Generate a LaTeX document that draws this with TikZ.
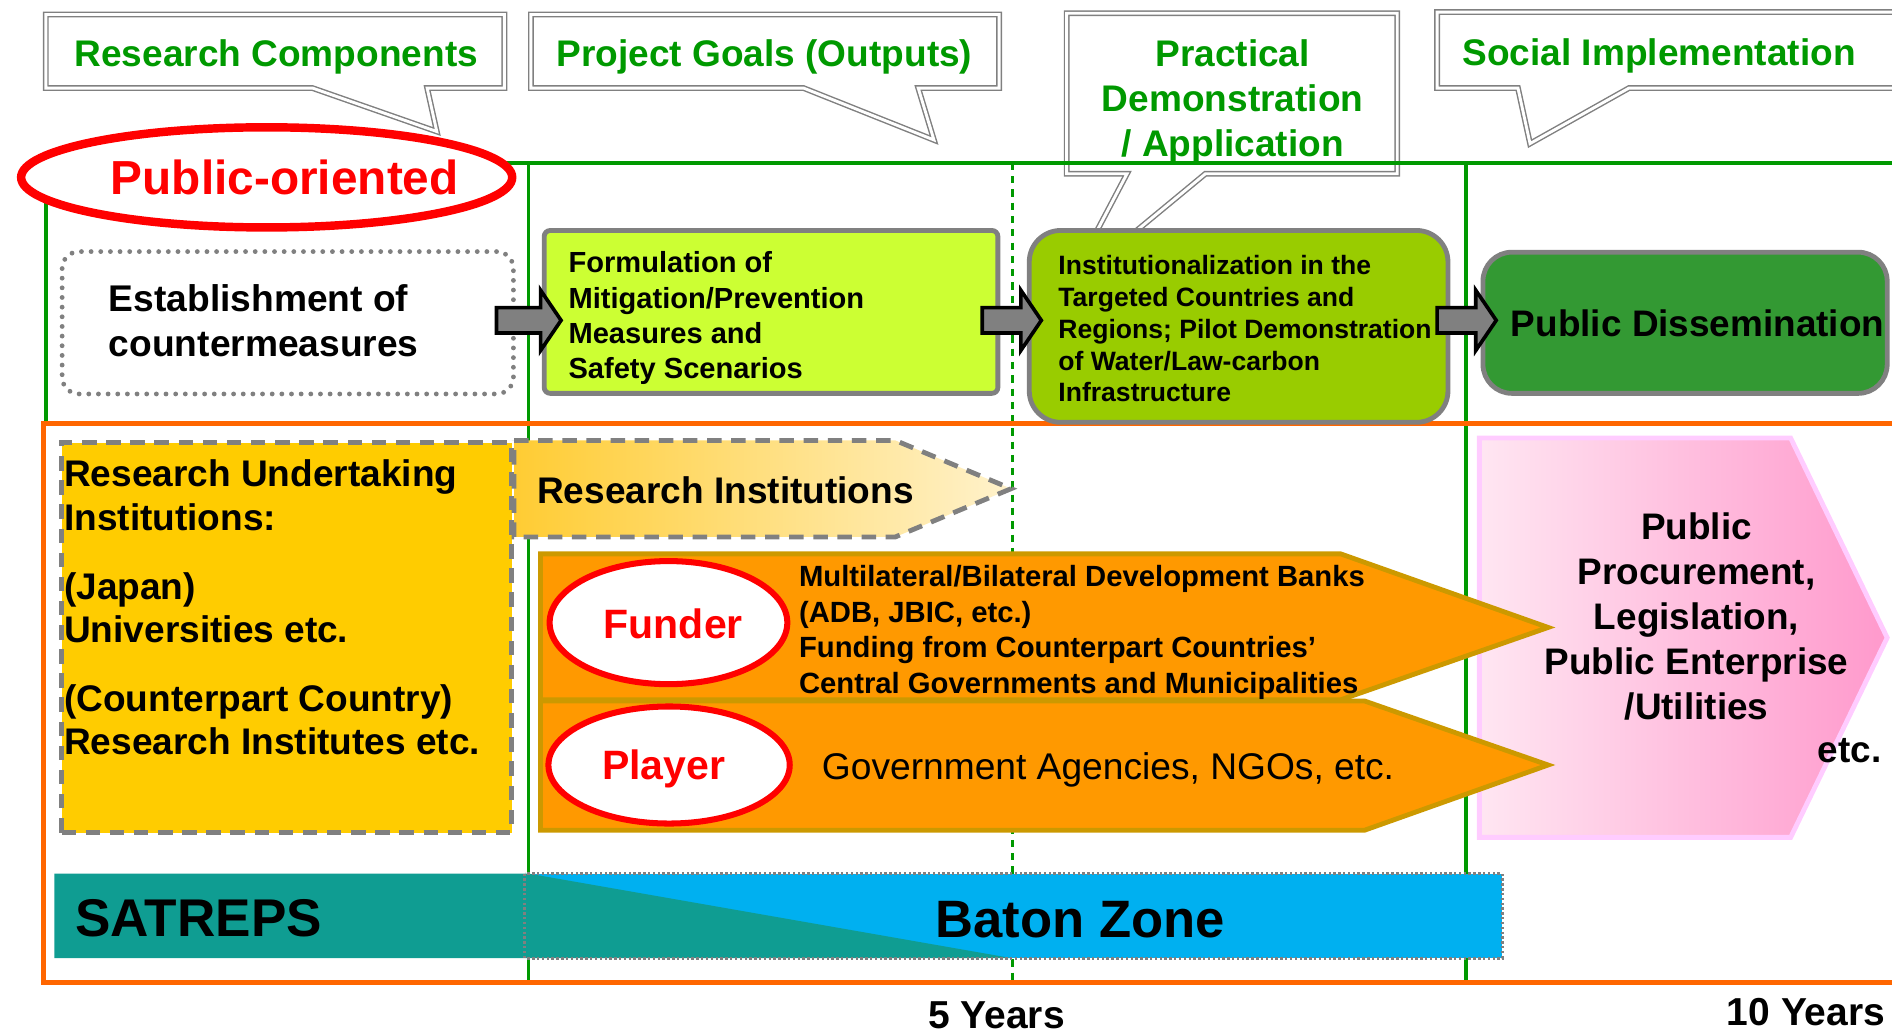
\documentclass[tikz,border=0pt]{standalone}
\usepackage{fontspec}
\setmainfont{Liberation Sans}
\usetikzlibrary{calc,shapes.geometric}
\definecolor{tgreen}{HTML}{009900}
\definecolor{lgreen}{HTML}{009900}
\definecolor{frorange}{HTML}{FF6600}
\definecolor{cgray}{HTML}{808080}
\definecolor{formfill}{HTML}{CCFF33}
\definecolor{instfill}{HTML}{99CC00}
\definecolor{pubfill}{HTML}{339933}
\definecolor{ylw}{HTML}{FFCC00}
\definecolor{riL}{HTML}{FFCC33}
\definecolor{riR}{HTML}{FFF2CC}
\definecolor{org}{HTML}{FF9900}
\definecolor{orgb}{HTML}{CC9900}
\definecolor{pkL}{HTML}{FFE6F2}
\definecolor{pkR}{HTML}{FF99CC}
\definecolor{pkB}{HTML}{FFCCFF}
\definecolor{satteal}{HTML}{0F9D92}
\definecolor{baton}{HTML}{00B0F0}
\newcommand\fsz[2]{\fontsize{#1}{#2}\selectfont}
\newcommand\blkarrow[2]{%
  \draw[blkarrow] let \p1=(#1), \p2=(#2) in
    (\x1,\y1+10.5) -- (\x2-17,\y1+10.5) -- (\x2-17,\y1+25) -- (\x2,\y1)
    -- (\x2-17,\y1-25) -- (\x2-17,\y1-10.5) -- (\x1,\y1-10.5) -- cycle;}
\begin{document}
\begin{tikzpicture}[x=1pt,y=-1pt,
  callout/.style={draw=cgray, double=white, double distance=2.4pt, line width=1.2pt, fill=white, miter limit=20},
  ctext/.style={text=tgreen, font=\bfseries\fsz{30.7}{37}, inner sep=0pt, align=center},
  frameline/.style={draw=lgreen, line width=3pt},
  boxt/.style={inner sep=0pt, align=left, text=black},
  blkarrow/.style={draw=black, fill=cgray, line width=3pt, line join=miter},
  redell/.style={ellipse, draw=red, fill=white, inner sep=0pt},
  txt/.style={inner sep=0pt, text=black}
]
\useasboundingbox (0,0) rectangle (1568,858);
\clip (0,0) rectangle (1568,858);

% callouts
\path[callout] (38,12) -- (418,12) -- (418,73) -- (354,73) -- (362,109) -- (259,73) -- (38,73) -- cycle;
\path[callout] (440,12) -- (828,12) -- (828,73) -- (761,73) -- (774,116) -- (666,73) -- (440,73) -- cycle;
\path[callout] (884,11) -- (1158,11) -- (1158,144) -- (999,144) -- (884,239) -- (934,144) -- (884,144) -- cycle;
\path[callout] (1191,10) -- (1600,10) -- (1600,73) -- (1350,73) -- (1268,119) -- (1258,73) -- (1191,73) -- cycle;
\node[ctext, anchor=base] (rc) at (229,55) {Research Components};
\node[ctext, anchor=base] (pg) at (633.5,55) {Project Goals (Outputs)};
\node[ctext, anchor=north] (pd) at (1021.5,33) {Practical\\Demonstration\\/ Application};
\node[ctext, anchor=base] (si) at (1375,54) {Social Implementation};

% frames
\draw[frameline] (38,135) -- (1600,135);
\draw[frameline] (38,135) -- (38,351);
\draw[frameline] (438,135) -- (438,814);
\draw[frameline] (1215,135) -- (1215,814);
\draw[frameline, dash pattern=on 6pt off 5pt] (839,135) -- (839,814);
\draw[draw=frorange, line width=4pt] (36,351) rectangle (1600,814);

% public-oriented
\node[redell, line width=7pt, minimum width=407pt, minimum height=83pt] (po) at (221,147) {};
\node[txt, font=\bfseries\fsz{39.6}{44}, text=red, anchor=base] (pot) at (236,161) {Public-oriented};

% top row boxes
\node[draw=cgray, line width=4pt, dash pattern=on 0pt off 8pt, line cap=round, rounded corners=14pt, minimum width=374pt, minimum height=118pt, inner sep=0pt] (est) at (238.5,267.5) {};
\node[boxt, font=\bfseries\fsz{30.8}{37}, anchor=north west] (estt) at (90,236) {Establishment of\\countermeasures};

\node[draw=cgray, fill=formfill, line width=4pt, rounded corners=5pt, minimum width=376pt, minimum height=135pt, inner sep=0pt] (form) at (639,258.5) {};
\node[boxt, font=\bfseries\fsz{24.1}{29.3}, anchor=north west] (formt) at (471,208.5) {Formulation of\\Mitigation/Prevention\\Measures and\\Safety Scenarios};

\node[draw=cgray, fill=instfill, line width=4pt, rounded corners=26pt, minimum width=347pt, minimum height=159pt, inner sep=0pt] (inst) at (1026.5,270.5) {};
\node[boxt, font=\bfseries\fsz{22}{26.5}, anchor=north west] (instt) at (877,211) {Institutionalization in the\\Targeted Countries and\\Regions; Pilot Demonstration\\of Water/Law-carbon\\Infrastructure};

\node[draw=cgray, fill=pubfill, line width=4pt, rounded corners=24pt, minimum width=335pt, minimum height=117pt, inner sep=0pt] (pub) at (1396.5,267.5) {};
\node[txt, font=\bfseries\fsz{30.6}{36}, anchor=base west] (pubt) at (1252,279) {Public Dissemination};

\coordinate (row) at (0,265.5);
\blkarrow{$(est.east|-row)+(-16,0)$}{$(form.west|-row)+(16,0)$}
\blkarrow{$(form.east|-row)+(-15,0)$}{$(inst.west|-row)+(12,0)$}
\blkarrow{$(inst.east|-row)+(-11,0)$}{$(pub.west|-row)+(13,0)$}

% lower section
\node[draw=cgray, fill=ylw, line width=4pt, dash pattern=on 12pt off 8pt, minimum width=373pt, minimum height=323pt, inner sep=0pt] (ybox) at (237.5,528.5) {};
\node[boxt, font=\bfseries\fsz{30.7}{36}, anchor=north west] (ybt) at (53,381) {Research Undertaking\\Institutions:\\[21pt](Japan)\\Universities etc.\\[21pt](Counterpart Country)\\Research Institutes etc.};

\path[draw=cgray, line width=4pt, dash pattern=on 12pt off 8pt, left color=riL, right color=riR] (426,365) -- (742,365) -- (838,405) -- (742,445) -- (426,445) -- cycle;
\node[txt, font=\bfseries\fsz{30.7}{36}, anchor=base west] (rit) at (445,417) {Research Institutions};

% pink target (drawn below the orange arrows)
\path[draw=pkB, line width=4pt, left color=pkL, right color=pkR] (1226,363) -- (1484,363) -- (1564,528.5) -- (1484,694) -- (1226,694) -- cycle;
\node[txt, font=\bfseries\fsz{30.6}{37.2}, align=center, anchor=north] (pkt) at (1406,425) {Public\\Procurement,\\Legislation,\\Public Enterprise\\/Utilities};
\node[txt, font=\bfseries\fsz{30.6}{36}, anchor=base] (etc) at (1533,632) {etc.};

\path[draw=orgb, fill=org, line width=4pt] (448,459) -- (1111,459) -- (1283,520) -- (1111,580) -- (448,580) -- cycle;
\path[draw=orgb, fill=org, line width=4pt] (448,581) -- (1131,581) -- (1283,634) -- (1131,688) -- (448,688) -- cycle;

\node[redell, line width=5pt, minimum width=197pt, minimum height=102pt] (fund) at (554,516) {};
\node[txt, font=\bfseries\fsz{34}{40}, text=red, anchor=base] (fundt) at (558,529) {Funder};
\node[redell, line width=5pt, minimum width=200pt, minimum height=97pt] (play) at (554.5,634) {};
\node[txt, font=\bfseries\fsz{34}{40}, text=red, anchor=base] (playt) at (550,646) {Player};

\node[boxt, font=\bfseries\fsz{24.25}{29.6}, anchor=north west] (fundtx) at (662,468.3) {Multilateral/Bilateral Development Banks\\(ADB, JBIC, etc.)\\Funding from Counterpart Countries’\\Central Governments and Municipalities};
\node[txt, font=\fsz{30.8}{36}, anchor=base west] (playtx) at (681,646) {Government Agencies, NGOs, etc.};

% bar
\fill[baton] (435,724) rectangle (1245,794);
\fill[satteal] (45,724) -- (438,724) -- (838,794) -- (45,794) -- cycle;
\draw[cgray, line width=2.5pt, dash pattern=on 2pt off 2pt] (435,724) rectangle (1245,794);
\node[txt, font=\bfseries\fsz{44}{50}, anchor=base west] (sat) at (62,776) {SATREPS};
\node[txt, font=\bfseries\fsz{43.6}{50}, anchor=base west] (baton) at (775,777) {Baton Zone};
\node[txt, font=\bfseries\fsz{32.3}{38}, anchor=base west] (y5) at (769,852) {5 Years};
\node[txt, font=\bfseries\fsz{32.3}{38}, anchor=base west] (y10) at (1431,850) {10 Years};
\end{tikzpicture}
\end{document}
